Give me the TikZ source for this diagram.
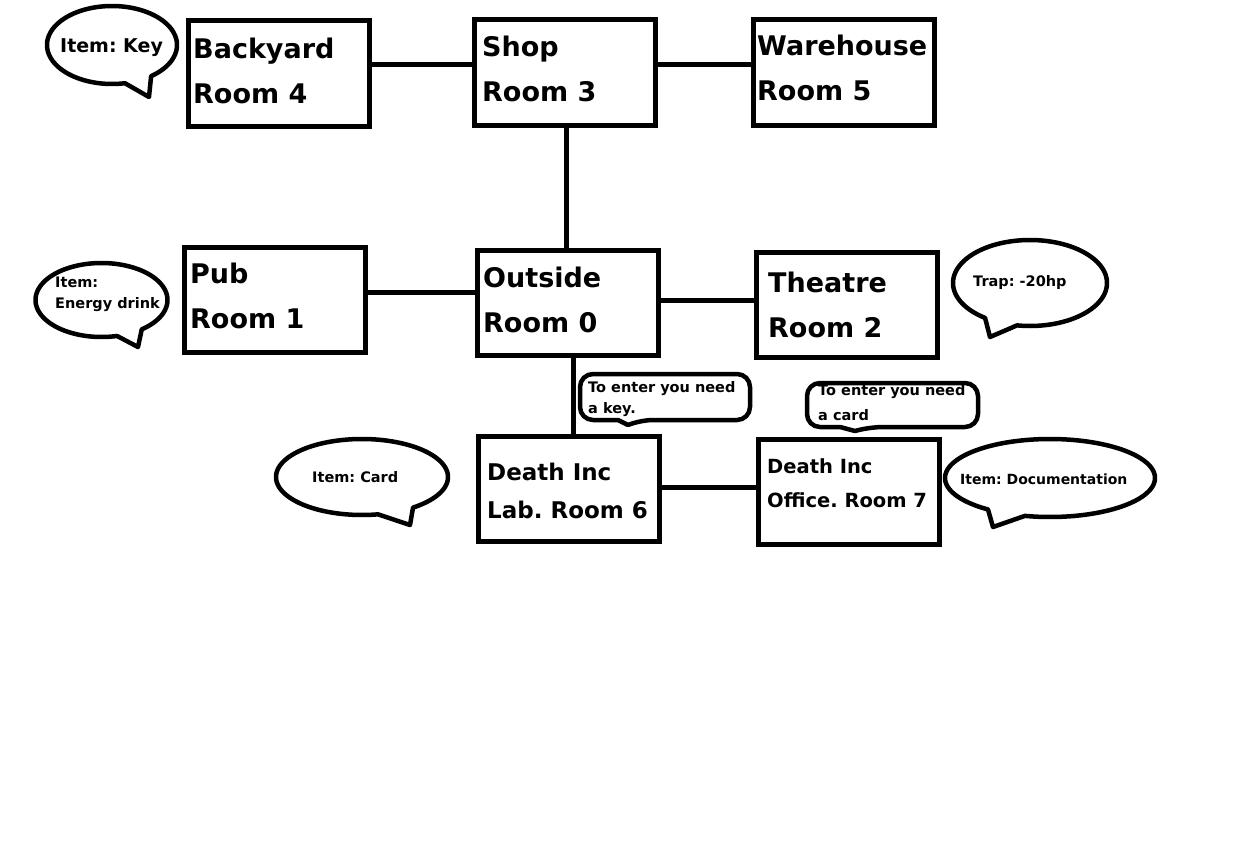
\documentclass[tikz,border=0pt]{standalone}
\usepackage{fontspec}
\setmainfont{DejaVu Sans}
\begin{document}
\frenchspacing
\begin{tikzpicture}[x=1pt,y=-1pt,
  room/.style={draw, line width=5pt, minimum width=181pt, minimum height=105pt, inner sep=0pt, outer sep=0pt},
  link/.style={line width=5pt},
  bubble/.style={draw, line width=4.5pt, line join=round},
  callout/.style={draw, line width=4.5pt, line join=round},
  roomtext/.style={anchor=base west, inner sep=0pt, align=left, font=\frenchspacing\bfseries\fontsize{27}{45}\selectfont},
  labtext/.style={anchor=base west, inner sep=0pt, align=left, font=\frenchspacing\bfseries\fontsize{23}{38}\selectfont},
  officetext/.style={anchor=base west, inner sep=0pt, align=left, font=\frenchspacing\bfseries\fontsize{19.5}{34}\selectfont},
  note/.style={anchor=base west, inner sep=0pt, align=left, font=\frenchspacing\bfseries\fontsize{14.5}{21}\selectfont},
  bignote/.style={anchor=base west, inner sep=0pt, align=left, font=\frenchspacing\bfseries\fontsize{19}{24}\selectfont}
]
\path[use as bounding box, fill=white] (0,0) rectangle (1254,851);

% rooms
\node[room] (r4) at (279,73.5) {};
\node[room] (r3) at (565,72.5) {};
\node[room] (r5) at (844,72.5) {};
\node[room] (r1) at (275,300) {};
\node[room] (r0) at (568,302.5) {};
\node[room] (r2) at (847,305) {};
\node[room] (r6) at (568.5,489) {};
\node[room] (r7) at (849,492) {};

% room texts (anchored at the baseline of the last line)
\node[roomtext] (t4) at (193,103) {Backyard\\Room 4};
\node[roomtext] (t3) at (482,102) {Shop\\Room 3};
\node[roomtext] (t5) at (757,100) {Warehouse\\Room 5};
\node[roomtext] (t1) at (190,328) {Pub\\Room 1};
\node[roomtext] (t0) at (483,332) {Outside\\Room 0};
\node[roomtext] (t2) at (768,337) {Theatre\\Room 2};
\node[labtext] (t6) at (487,518) {Death Inc\\Lab. Room 6};
\node[officetext] (t7) at (767,507) {Death Inc\\Office. Room 7};

% connectors
\draw[link] ([yshift=8.5pt]r4.east) -- ([yshift=8.5pt]r4.east -| r3.west);
\draw[link] ([yshift=7.5pt]r3.east) -- ([yshift=7.5pt]r3.east -| r5.west);
\draw[link] ([xshift=1pt]r3.south) -- ([xshift=1pt]r3.south |- r0.north);
\draw[link] ([yshift=8pt]r1.east) -- ([yshift=8pt]r1.east -| r0.west);
\draw[link] ([yshift=2.5pt]r0.east) -- ([yshift=2.5pt]r0.east -| r2.west);
\draw[link] ([xshift=5pt]r0.south) -- ([xshift=5pt]r0.south |- r6.north);
\draw[link] ([yshift=2pt]r6.east) -- ([yshift=2pt]r6.east -| r7.west);

% speech bubbles
\draw[bubble] plot[domain=53:-281.5, samples=140, variable=\t] ({112+65*cos(\t)},{45+39*sin(\t)}) -- (149,97) -- cycle;
\node[bignote] (n4) at (60,53) {Item: Key};

\draw[bubble] plot[domain=52.4:-283.6, samples=140, variable=\t] ({101.5+66*cos(\t)},{300+37*sin(\t)}) -- (138,347) -- cycle;
\node[note] (n1) at (55,308) {Item:\\Energy drink};

\draw[bubble] plot[domain=125.7:459.7, samples=140, variable=\t] ({1030+77*cos(\t)},{283+43*sin(\t)}) -- (990,337) -- cycle;
\node[note] (n2) at (973,286) {Trap: -20hp};

\draw[bubble] plot[domain=53.6:-280.7, samples=140, variable=\t] ({362+86*cos(\t)},{477+38*sin(\t)}) -- (410,525) -- cycle;
\node[note] (n6) at (312,482) {Item: Card};

\draw[bubble] plot[domain=126.2:463.8, samples=140, variable=\t] ({1050+105*cos(\t)},{478+39*sin(\t)}) -- (993,527) -- cycle;
\node[note, font=\frenchspacing\bfseries\fontsize{14}{21}\selectfont] (n7) at (960,484) {Item: Documentation};

% callouts
\draw[callout] (700,374) [rounded corners=13] -- (750,374) -- (750,420) -- (640,420) [sharp corners] -- (628,425) -- (618,420) [rounded corners=13] -- (580,420) -- (580,374) -- cycle;
\node[note] (k6) at (588,413) {To enter you need\\a key.};

\draw[callout] (900,383) [rounded corners=13] -- (978,383) -- (978,427) -- (870,427) [sharp corners] -- (855,431) -- (840,427) [rounded corners=13] -- (807,427) -- (807,383) -- cycle;
\node[note, font=\frenchspacing\bfseries\fontsize{14.5}{25}\selectfont] (k7) at (818,420) {To enter you need\\a card};
\end{tikzpicture}
\end{document}
